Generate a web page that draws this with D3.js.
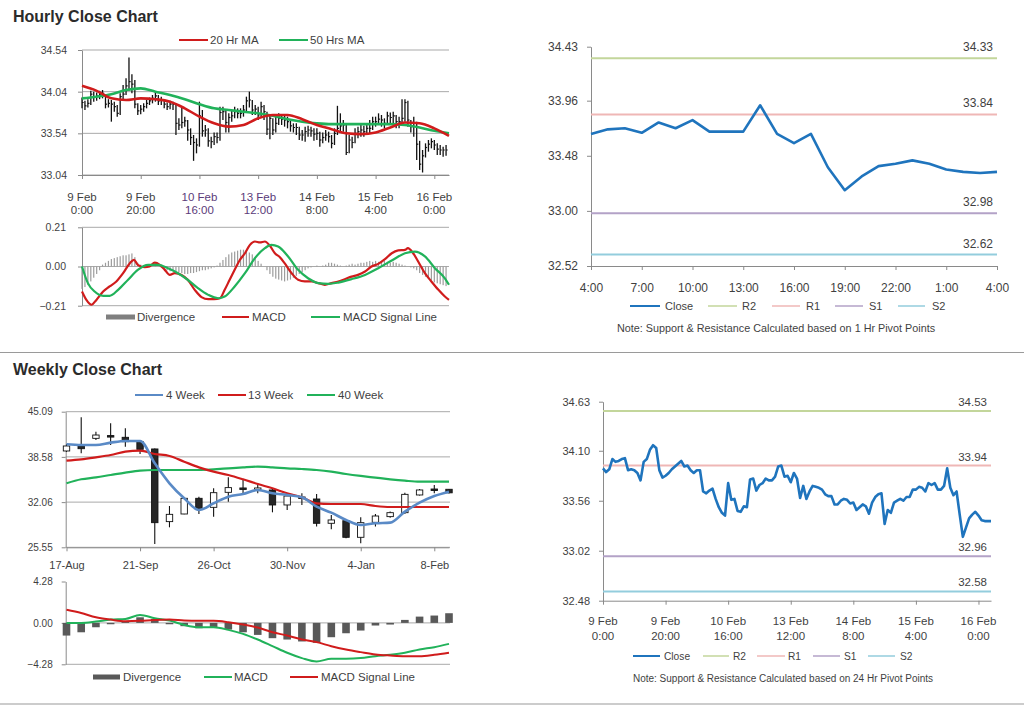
<!DOCTYPE html>
<html><head><meta charset="utf-8">
<script src="https://cdn.jsdelivr.net/npm/d3@7"></script>
<style>body{margin:0;background:#fff;} svg text{font-family:"Liberation Sans",Arial,sans-serif;}</style>
</head><body><svg id="c" width="1024" height="706"></svg>
<script>
// ---------------- DATA ----------------
// Hourly closes (9 Feb 0:00 ... ~16 Feb 4:00), one per trading hour
const hClose = [33.91,33.87,33.90,34.01,33.98,33.99,34.01,34.02,33.89,33.90,
33.89,33.86,33.78,33.98,34.01,34.11,34.16,34.13,33.89,33.81,
33.83,33.86,33.90,33.93,33.96,33.99,33.93,33.94,33.89,33.86,
33.89,33.89,33.66,33.64,33.67,33.69,33.58,33.49,33.43,33.40,
33.75,33.57,33.58,33.45,33.44,33.50,33.49,33.79,33.80,33.67,
33.73,33.75,33.80,33.78,33.78,33.82,33.93,33.94,33.82,33.83,
33.76,33.86,33.80,33.59,33.72,33.58,33.66,33.72,33.71,33.70,
33.68,33.63,33.61,33.61,33.52,33.52,33.56,33.58,33.57,33.53,
33.54,33.46,33.49,33.52,33.50,33.42,33.54,33.60,33.63,33.64,
33.31,33.46,33.43,33.54,33.56,33.58,33.56,33.60,33.60,33.68,
33.68,33.71,33.70,33.66,33.75,33.73,33.75,33.68,33.68,33.72,
33.91,33.70,33.62,33.66,33.41,33.17,33.27,33.37,33.41,33.44,
33.40,33.35,33.34,33.34,33.34];
const hHigh = [33.97,33.93,33.95,34.05,34.04,34.03,34.05,34.06,34.00,33.95,
33.94,33.92,33.88,34.02,34.12,34.20,34.45,34.25,34.18,33.90,
33.88,33.90,33.94,33.97,34.00,34.04,34.00,33.98,33.95,33.91,
33.93,33.92,33.90,33.72,33.86,33.74,33.70,33.60,33.52,33.48,
33.92,33.82,33.64,33.60,33.50,33.55,33.55,33.86,33.86,33.82,
33.78,33.82,33.86,33.84,33.84,33.88,33.98,34.04,33.94,33.88,
33.86,33.92,33.88,33.80,33.76,33.72,33.74,33.78,33.76,33.76,
33.74,33.70,33.66,33.66,33.62,33.58,33.62,33.63,33.62,33.60,
33.60,33.56,33.55,33.58,33.56,33.52,33.60,33.87,33.78,33.70,
33.66,33.52,33.50,33.60,33.62,33.64,33.63,33.66,33.70,33.74,
33.74,33.78,33.76,33.72,33.80,33.79,33.80,33.76,33.74,33.95,
33.95,33.93,33.70,33.74,33.68,33.45,33.34,33.42,33.46,33.48,
33.46,33.42,33.40,33.38,33.40];
const hLow = [33.84,33.82,33.85,33.88,33.92,33.93,33.95,33.96,33.84,33.85,
33.68,33.80,33.74,33.76,33.95,34.00,34.05,34.02,33.84,33.76,
33.77,33.80,33.84,33.88,33.90,33.92,33.88,33.88,33.84,33.82,
33.83,33.82,33.52,33.58,33.60,33.62,33.45,33.40,33.21,33.30,
33.38,33.50,33.50,33.38,33.36,33.40,33.42,33.45,33.70,33.55,
33.55,33.68,33.72,33.72,33.72,33.74,33.80,33.85,33.76,33.76,
33.70,33.74,33.70,33.52,33.47,33.52,33.55,33.64,33.64,33.62,
33.60,33.56,33.55,33.52,33.46,33.45,33.44,33.50,33.50,33.45,
33.46,33.38,33.42,33.45,33.43,33.36,33.40,33.52,33.56,33.56,
33.28,33.30,33.36,33.42,33.48,33.50,33.50,33.52,33.54,33.58,
33.62,33.64,33.62,33.60,33.66,33.66,33.66,33.60,33.60,33.64,
33.68,33.62,33.55,33.50,33.22,33.10,33.07,33.25,33.32,33.36,
33.34,33.28,33.28,33.26,33.27];
const hMaIdx = [0,5,10,15,20,25,30,35,40,45,50,55,60,65,70,75,80,85,90,95,100,105,110,115,120,125];
const hMa20 = [34.11,34.05,33.96,33.94,33.96,33.95,33.92,33.84,33.74,33.66,33.62,33.64,33.72,33.76,33.76,33.71,33.64,33.59,33.54,33.53,33.55,33.61,33.67,33.66,33.60,33.51];
const hMa50 = [33.96,33.98,34.01,34.06,34.08,34.04,34.00,33.95,33.89,33.84,33.82,33.80,33.78,33.75,33.71,33.68,33.66,33.65,33.65,33.65,33.65,33.65,33.64,33.61,33.57,33.54];
const hYTicks = [33.04,33.54,34.04,34.54];
const hTickIdx = [0,20,40,60,80,100,120];
const hTickDay = ["9 Feb","9 Feb","10 Feb","13 Feb","14 Feb","15 Feb","16 Feb"];
const hTickTime = ["0:00","20:00","16:00","12:00","8:00","4:00","0:00"];
// hourly MACD
const hDiv = [-0.12,-0.11,-0.10,-0.08,-0.06,-0.04,-0.02,0.01,0.02,0.03,
0.04,0.045,0.05,0.055,0.06,0.06,0.065,0.07,0.05,0.02,
0.01,0.005,0.0,0.005,0.01,0.005,0.0,-0.005,-0.01,-0.02,
-0.025,-0.02,-0.025,-0.03,-0.035,-0.04,-0.04,-0.035,-0.035,-0.03,
-0.025,-0.02,-0.02,-0.015,-0.01,-0.005,0.005,0.02,0.035,0.05,
0.065,0.075,0.08,0.085,0.09,0.09,0.085,0.075,0.065,0.05,
0.03,0.015,0.0,-0.02,-0.04,-0.055,-0.065,-0.07,-0.075,-0.08,
-0.075,-0.07,-0.06,-0.05,-0.04,-0.03,-0.02,-0.01,-0.005,0.0,
0.005,0.0,0.005,0.01,0.02,0.02,0.015,0.01,0.005,0.0,
0.005,0.01,0.015,0.01,0.015,0.02,0.02,0.025,0.03,0.025,
0.03,0.025,0.03,0.03,0.025,0.02,0.025,0.02,0.015,0.01,
0.005,0.0,-0.005,-0.01,-0.02,-0.035,-0.045,-0.055,-0.065,-0.075,
-0.085,-0.09,-0.095,-0.10,-0.105];
const hMacdIdx = [0,1.5,3.2,4.9,7.2,9.4,11.7,14,16.3,17.7,19,21.4,23,24.8,26.5,28.2,29.9,31.6,33.9,36,38.4,40.7,43,45,47,48.6,50.3,52,53.8,55.5,57.2,58.9,60.6,62.3,64,65.7,67.4,69,71.4,73.6,75.9,78.2,80.5,82.7,85,87.3,89.5,91.8,94,96.4,98.6,100.9,103.2,105.5,107.7,110,111,112.8,114.5,116.8,119,121.4,123.6,125];
const hMacdVal = [-0.134,-0.179,-0.205,-0.179,-0.134,-0.107,-0.08,-0.036,0.018,0.036,0.009,-0.004,0,0.021,0.009,-0.018,-0.045,-0.036,-0.045,-0.071,-0.125,-0.164,-0.175,-0.175,-0.17,-0.125,-0.071,-0.018,0.036,0.071,0.116,0.134,0.129,0.134,0.111,0.071,0.05,0.018,-0.036,-0.071,-0.08,-0.08,-0.089,-0.098,-0.089,-0.08,-0.068,-0.054,-0.045,-0.027,0,0.014,0.039,0.071,0.086,0.089,0.098,0.071,0.027,-0.036,-0.08,-0.125,-0.161,-0.179];
const hSigIdx = [0,2,4.3,7.2,9.4,12.3,15.7,19,22.5,25.9,29.3,32.7,36,39.5,43,46.4,48.6,52,55.5,58.9,62.3,64.5,66.8,70.2,73.6,77,80.5,83.9,87.3,91.8,96.4,100.9,105.5,110,113.4,116.8,120.2,123.6,125];
const hSigVal = [0,-0.089,-0.134,-0.157,-0.157,-0.125,-0.071,-0.018,0.009,0.009,-0.009,-0.036,-0.071,-0.116,-0.152,-0.17,-0.161,-0.107,-0.036,0.045,0.098,0.116,0.107,0.054,-0.018,-0.063,-0.089,-0.093,-0.086,-0.068,-0.045,-0.009,0.032,0.071,0.08,0.054,-0.009,-0.063,-0.098];
const hMacdTicks = [-0.21,0,0.21];

// 1 Hr pivot chart
const pClose = [33.67,33.71,33.72,33.68,33.77,33.72,33.79,33.69,33.69,33.69,33.92,33.67,33.59,33.67,33.38,33.18,33.30,33.39,33.41,33.44,33.41,33.36,33.34,33.33,33.34];
const pYTicks = [32.52,33.00,33.48,33.96,34.43];
const pXIdx = [0,3,6,9,12,15,18,21,24];
const pXLabels = ["4:00","7:00","10:00","13:00","16:00","19:00","22:00","1:00","4:00"];
const pPivotNames = ["R2","R1","S1","S2"];
const pPivots = [34.33,33.84,32.98,32.62];

// 24 Hr pivot chart
const dYTicks = [32.48,33.02,33.56,34.10,34.63];
const dPivots = [34.53,33.94,32.96,32.58];

// Weekly
const wOpen  = [39.43,40.15,41.25,41.65,41.40,40.77,39.72,29.25,30.35,32.61,31.31,33.47,34.10,33.90,33.81,31.65,32.80,32.51,29.01,29.39,26.99,29.15,29.97,30.54,33.09,33.95,33.91];
const wClose = [40.15,39.76,41.73,41.55,40.77,39.67,29.10,30.30,32.61,31.17,33.42,34.15,34.00,34.10,31.65,32.94,32.70,29.01,29.49,26.99,29.10,30.06,30.54,33.18,33.81,33.85,33.40];
const wHigh  = [40.40,44.30,42.20,43.42,42.70,41.00,39.80,31.50,32.70,32.85,34.05,35.63,35.25,34.77,34.05,33.10,33.33,33.23,30.21,29.45,29.87,30.35,30.70,33.42,33.95,34.53,33.95];
const wLow   = [39.30,39.09,41.01,40.29,40.05,39.00,26.03,28.43,30.30,30.35,29.97,32.13,33.33,33.33,30.59,30.93,31.65,28.53,28.14,26.85,26.12,28.53,29.80,30.35,33.00,33.33,33.30];
const w4  = [40.39,40.29,40.29,40.63,40.87,40.87,37.65,34.77,32.61,30.93,31.89,32.85,33.23,33.81,33.33,33.09,32.75,31.41,30.54,29.49,28.77,29.01,29.10,30.68,31.98,32.94,33.57];
const w13 = [38.04,38.23,38.52,38.85,39.33,39.48,39.00,38.71,37.89,37.07,36.45,35.97,35.35,34.67,34.05,33.33,32.75,31.89,31.79,31.79,31.79,31.50,31.36,31.36,31.36,31.36,31.36];
const w40 = [34.77,35.35,35.63,35.97,36.31,36.60,36.69,36.69,36.69,36.69,36.79,36.93,37.07,37.17,37.07,36.93,36.83,36.69,36.45,36.11,35.83,35.59,35.35,35.15,35.01,35.01,35.01];
const wYTicks = [25.55,32.06,38.58,45.09];
const wXIdx = [0,5,10,15,20,25];
const wXLabels = ["17-Aug","21-Sep","26-Oct","30-Nov","4-Jan","8-Feb"];
const wDiv  = [-1.31,-0.97,-0.45,-0.14,0.20,0.58,0.41,-0.14,-0.34,-0.55,-0.45,-0.69,-0.97,-1.24,-1.58,-1.72,-1.92,-2.06,-1.48,-1.07,-0.79,-0.27,-0.17,0.31,0.65,0.76,1.00];
const wMacd = [0,0,0.14,0.34,0.41,0.82,0.48,0.24,-0.21,-0.45,-0.45,-0.72,-1.13,-1.72,-2.40,-3.09,-3.64,-3.99,-3.71,-3.71,-3.64,-3.44,-3.30,-3.09,-2.75,-2.51,-2.17];
const wSig  = [1.37,1.03,0.58,0.34,0.17,0.21,0.31,0.34,0.24,0.21,0.21,0.07,-0.17,-0.48,-0.96,-1.31,-1.72,-1.99,-2.41,-2.75,-3.02,-3.26,-3.37,-3.44,-3.44,-3.30,-3.09];
const wMacdTicks = [-4.28,0,4.28];

// ---------------- DRAW ----------------
const svg = d3.select("#c");
const TXT = "#3f3f3f", AX = "#8a8a8a", GRID = "#a9a9a9";
const RED = "#d01c1c", GREEN = "#21b25a", BLUE = "#1f74bd", WBLUE = "#5a8ac6";
const PIV = ["#c3d69b","#efb7b6","#b3a2c7","#93cddd"];
const f2 = d3.format(".2f");

function txt(x,y,s,fs,anchor,fill,weight){
  return svg.append("text").attr("x",x).attr("y",y).attr("font-size",fs)
    .attr("text-anchor",anchor||"start").attr("fill",fill||TXT)
    .attr("font-weight",weight||"normal").text(s);
}
function hline(x1,x2,y,color,w){
  svg.append("line").attr("x1",x1).attr("x2",x2).attr("y1",y).attr("y2",y)
    .attr("stroke",color).attr("stroke-width",w||1);
}
function styleAxis(a,fs){
  a.attr("font-family",null);
  a.select(".domain").attr("stroke",AX);
  a.selectAll(".tick line").attr("stroke",AX);
  a.selectAll("text").attr("fill",TXT).attr("font-size",fs);
}
function yAxis(scale,x,vals,labels,fs,pad){
  const ax = d3.axisLeft(scale).tickValues(vals).tickSize(4).tickSizeOuter(0)
    .tickPadding(pad).tickFormat((d,i)=>labels[i]);
  styleAxis(svg.append("g").attr("transform",`translate(${x},0)`).call(ax),fs);
}
function xAxis(scale,y,vals,fmt,fs){
  const ax = d3.axisBottom(scale).tickValues(vals).tickSize(4).tickSizeOuter(0)
    .tickFormat(fmt||"");
  const a = svg.append("g").attr("transform",`translate(0,${y})`).call(ax);
  styleAxis(a,fs||11);
  return a;
}
function legend(items,y,fs){
  items.forEach(it=>{
    if(it.bar){
      svg.append("rect").attr("x",it.x1).attr("y",y-2.5).attr("width",it.x2-it.x1).attr("height",5).attr("fill",it.color);
    } else {
      hline(it.x1,it.x2,y,it.color,it.w||2);
    }
    txt(it.tx,y+4,it.label,fs);
  });
}
function path(data,x,y,color,w,curve){
  const gen = d3.line().x(d=>x(d[0])).y(d=>y(d[1]));
  if(curve) gen.curve(curve);
  svg.append("path").datum(data).attr("d",gen).attr("fill","none")
    .attr("stroke",color).attr("stroke-width",w).attr("stroke-linejoin","round");
}

// titles and separators
txt(13,22,"Hourly Close Chart",16,"start","#2b2b2b","bold");
txt(13,375,"Weekly Close Chart",16,"start","#2b2b2b","bold");
hline(0,1024,352.5,"#9a9a9a",1.2);
hline(0,1024,704,"#9a9a9a",1.2);

// ===== Hourly price chart (top-left) =====
{
  const x = d3.scaleLinear().domain([0,125]).range([82,449]);
  const y = d3.scaleLinear().domain([hYTicks[0],hYTicks[3]]).range([175,50]);
  hYTicks.forEach(v=>hline(82,449,y(v),GRID,1));
  yAxis(y,82,hYTicks,hYTicks.map(f2),10.5,11);
  xAxis(x,175,hTickIdx);
  hTickIdx.forEach((t,i)=>{
    const col = (i===2||i===3) ? "#5b3b7a" : TXT;
    txt(x(t),201,hTickDay[i],11.5,"middle",col);
    txt(x(t),214,hTickTime[i],11.5,"middle",col);
  });
  const g = svg.append("g");
  hClose.forEach((c,i)=>{
    g.append("line").attr("x1",x(i)).attr("x2",x(i)).attr("y1",y(hLow[i])).attr("y2",y(hHigh[i]))
      .attr("stroke","#111").attr("stroke-width",1.3);
    g.append("line").attr("x1",x(i)).attr("x2",x(i)+1.6).attr("y1",y(c)).attr("y2",y(c))
      .attr("stroke","#111").attr("stroke-width",1.2);
  });
  path(hMaIdx.map((t,i)=>[t,hMa50[i]]),x,y,GREEN,2.6,d3.curveMonotoneX);
  path(hMaIdx.map((t,i)=>[t,hMa20[i]]),x,y,RED,2.6,d3.curveMonotoneX);
  legend([{x1:179,x2:208,tx:210,label:"20 Hr MA",color:RED},
          {x1:279,x2:308,tx:310,label:"50 Hrs MA",color:GREEN}],40,11.5);
}

// ===== Hourly MACD (top-left lower) =====
{
  const x = d3.scaleLinear().domain([0,125]).range([82,449]);
  const y = d3.scaleLinear().domain([-0.21,0.21]).range([305.7,227.3]);
  hMacdTicks.forEach(v=>hline(82,449,y(v),GRID,1));
  yAxis(y,82,hMacdTicks,hMacdTicks.map(f2),10.5,12);
  hDiv.forEach((v,i)=>{
    svg.append("rect").attr("x",x(i)-0.6).attr("width",1.2)
      .attr("y",Math.min(y(v),y(0))).attr("height",Math.abs(y(v)-y(0)))
      .attr("fill","#9c9c9c");
  });
  path(hMacdIdx.map((t,i)=>[t,hMacdVal[i]]),x,y,RED,2.2,d3.curveMonotoneX);
  path(hSigIdx.map((t,i)=>[t,hSigVal[i]]),x,y,GREEN,2.2,d3.curveMonotoneX);
  legend([{x1:106,x2:135,tx:137,label:"Divergence",color:"#7f7f7f",bar:true},
          {x1:222,x2:249,tx:252,label:"MACD",color:RED},
          {x1:311,x2:340,tx:343,label:"MACD Signal Line",color:GREEN}],317,11.5);
}

// ===== 1 Hr pivot chart (top-right) =====
{
  const x = d3.scaleLinear().domain([0,24]).range([591,997]);
  const y = d3.scaleLinear().domain([pYTicks[0],pYTicks[4]]).range([266,46.7]);
  yAxis(y,591,pYTicks,pYTicks.map(f2),12,9);
  const a = xAxis(x,266,pXIdx,(d,i)=>pXLabels[i],12);
  a.selectAll("text").attr("dy",null).attr("y",26);
  pPivots.forEach((v,i)=>{
    hline(591,997,y(v),PIV[i],2);
    txt(993,y(v)-7,f2(v),12,"end");
  });
  path(pClose.map((v,i)=>[i,v]),x,y,BLUE,2.6);
  legend([{x1:630,x2:660,tx:665,label:"Close",color:BLUE},
          {x1:708,x2:737,tx:742,label:"R2",color:PIV[0],w:1.5},
          {x1:772,x2:800,tx:806,label:"R1",color:PIV[1],w:1.5},
          {x1:835,x2:863,tx:869,label:"S1",color:PIV[2],w:1.5},
          {x1:898,x2:925,tx:932,label:"S2",color:PIV[3],w:1.5}],306,11);
  txt(776,332,"Note: Support & Resistance Calculated based on 1 Hr Pivot Points",10.8,"middle");
}

// ===== 24 Hr pivot chart (bottom-right) =====
{
  const x = d3.scaleLinear().domain([0,124]).range([603,991]);
  const y = d3.scaleLinear().domain([dYTicks[0],dYTicks[4]]).range([600.7,401.7]);
  yAxis(y,603,dYTicks,dYTicks.map(f2),11,9);
  xAxis(x,600.7,hTickIdx,null,11);
  hTickIdx.forEach((t,i)=>{
    txt(x(t),625,hTickDay[i],11.5,"middle");
    txt(x(t),639.5,hTickTime[i],11.5,"middle");
  });
  dPivots.forEach((v,i)=>{
    hline(603,991,y(v),PIV[i],2);
    txt(987,y(v)-5,f2(v),11.5,"end");
  });
  path(hClose.map((v,i)=>[i,v]),x,y,BLUE,2.6);
  legend([{x1:633,x2:660,tx:664,label:"Close",color:BLUE},
          {x1:703,x2:729,tx:733,label:"R2",color:PIV[0],w:1.5},
          {x1:757,x2:785,tx:788,label:"R1",color:PIV[1],w:1.5},
          {x1:813,x2:840,tx:844,label:"S1",color:PIV[2],w:1.5},
          {x1:868,x2:895,tx:900,label:"S2",color:PIV[3],w:1.5}],656,10.2);
  txt(783,682,"Note: Support & Resistance Calculated based on 24 Hr Pivot Points",10,"middle");
}

// ===== Weekly candle chart =====
{
  const x = d3.scaleLinear().domain([0,26]).range([66.5,449]);
  const y = d3.scaleLinear().domain([wYTicks[0],wYTicks[3]]).range([547.3,411.7]);
  wYTicks.forEach(v=>hline(65.7,450,y(v),GRID,1));
  yAxis(y,65.7,wYTicks,wYTicks.map(f2),10,9);
  const a = xAxis(x,547.3,wXIdx,(d,i)=>wXLabels[i],11);
  a.selectAll("text").attr("dy",null).attr("y",22);
  wOpen.forEach((o,i)=>{
    const c = wClose[i], up = c >= o, bw = 6.4;
    svg.append("line").attr("x1",x(i)).attr("x2",x(i)).attr("y1",y(wHigh[i])).attr("y2",y(wLow[i]))
      .attr("stroke","#111").attr("stroke-width",1.1);
    const top = y(Math.max(o,c)), bot = y(Math.min(o,c));
    svg.append("rect").attr("x",x(i)-bw/2).attr("width",bw).attr("y",top)
      .attr("height",Math.max(1.5,bot-top)).attr("fill",up?"#fff":"#262626")
      .attr("stroke","#111").attr("stroke-width",0.9);
  });
  path(w40.map((v,i)=>[i,v]),x,y,GREEN,2.2,d3.curveMonotoneX);
  path(w13.map((v,i)=>[i,v]),x,y,RED,2.2,d3.curveMonotoneX);
  path(w4.map((v,i)=>[i,v]),x,y,WBLUE,2.6,d3.curveMonotoneX);
  legend([{x1:135,x2:163,tx:166,label:"4 Week",color:WBLUE},
          {x1:218,x2:246,tx:248,label:"13 Week",color:RED},
          {x1:307,x2:335,tx:338,label:"40 Week",color:GREEN}],395,11.5);
}

// ===== Weekly MACD =====
{
  const x = d3.scaleLinear().domain([0,26]).range([66.5,449]);
  const y = d3.scaleLinear().domain([-4.28,4.28]).range([664.3,581.5]);
  hline(65.7,450,y(0),GRID,1);
  hline(65.7,450,y(-4.28),GRID,1);
  yAxis(y,65.7,wMacdTicks,wMacdTicks.map(f2),10,9);
  wDiv.forEach((v,i)=>{
    svg.append("rect").attr("x",x(i)-3.8).attr("width",7.6)
      .attr("y",Math.min(y(v),y(0))).attr("height",Math.abs(y(v)-y(0)))
      .attr("fill","#595959");
  });
  path(wMacd.map((v,i)=>[i,v]),x,y,GREEN,2,d3.curveMonotoneX);
  path(wSig.map((v,i)=>[i,v]),x,y,RED,2,d3.curveMonotoneX);
  legend([{x1:93,x2:120,tx:123,label:"Divergence",color:"#595959",bar:true},
          {x1:204,x2:232,tx:234,label:"MACD",color:GREEN},
          {x1:290,x2:318,tx:321,label:"MACD Signal Line",color:RED}],677,11.5);
}
</script></body></html>
